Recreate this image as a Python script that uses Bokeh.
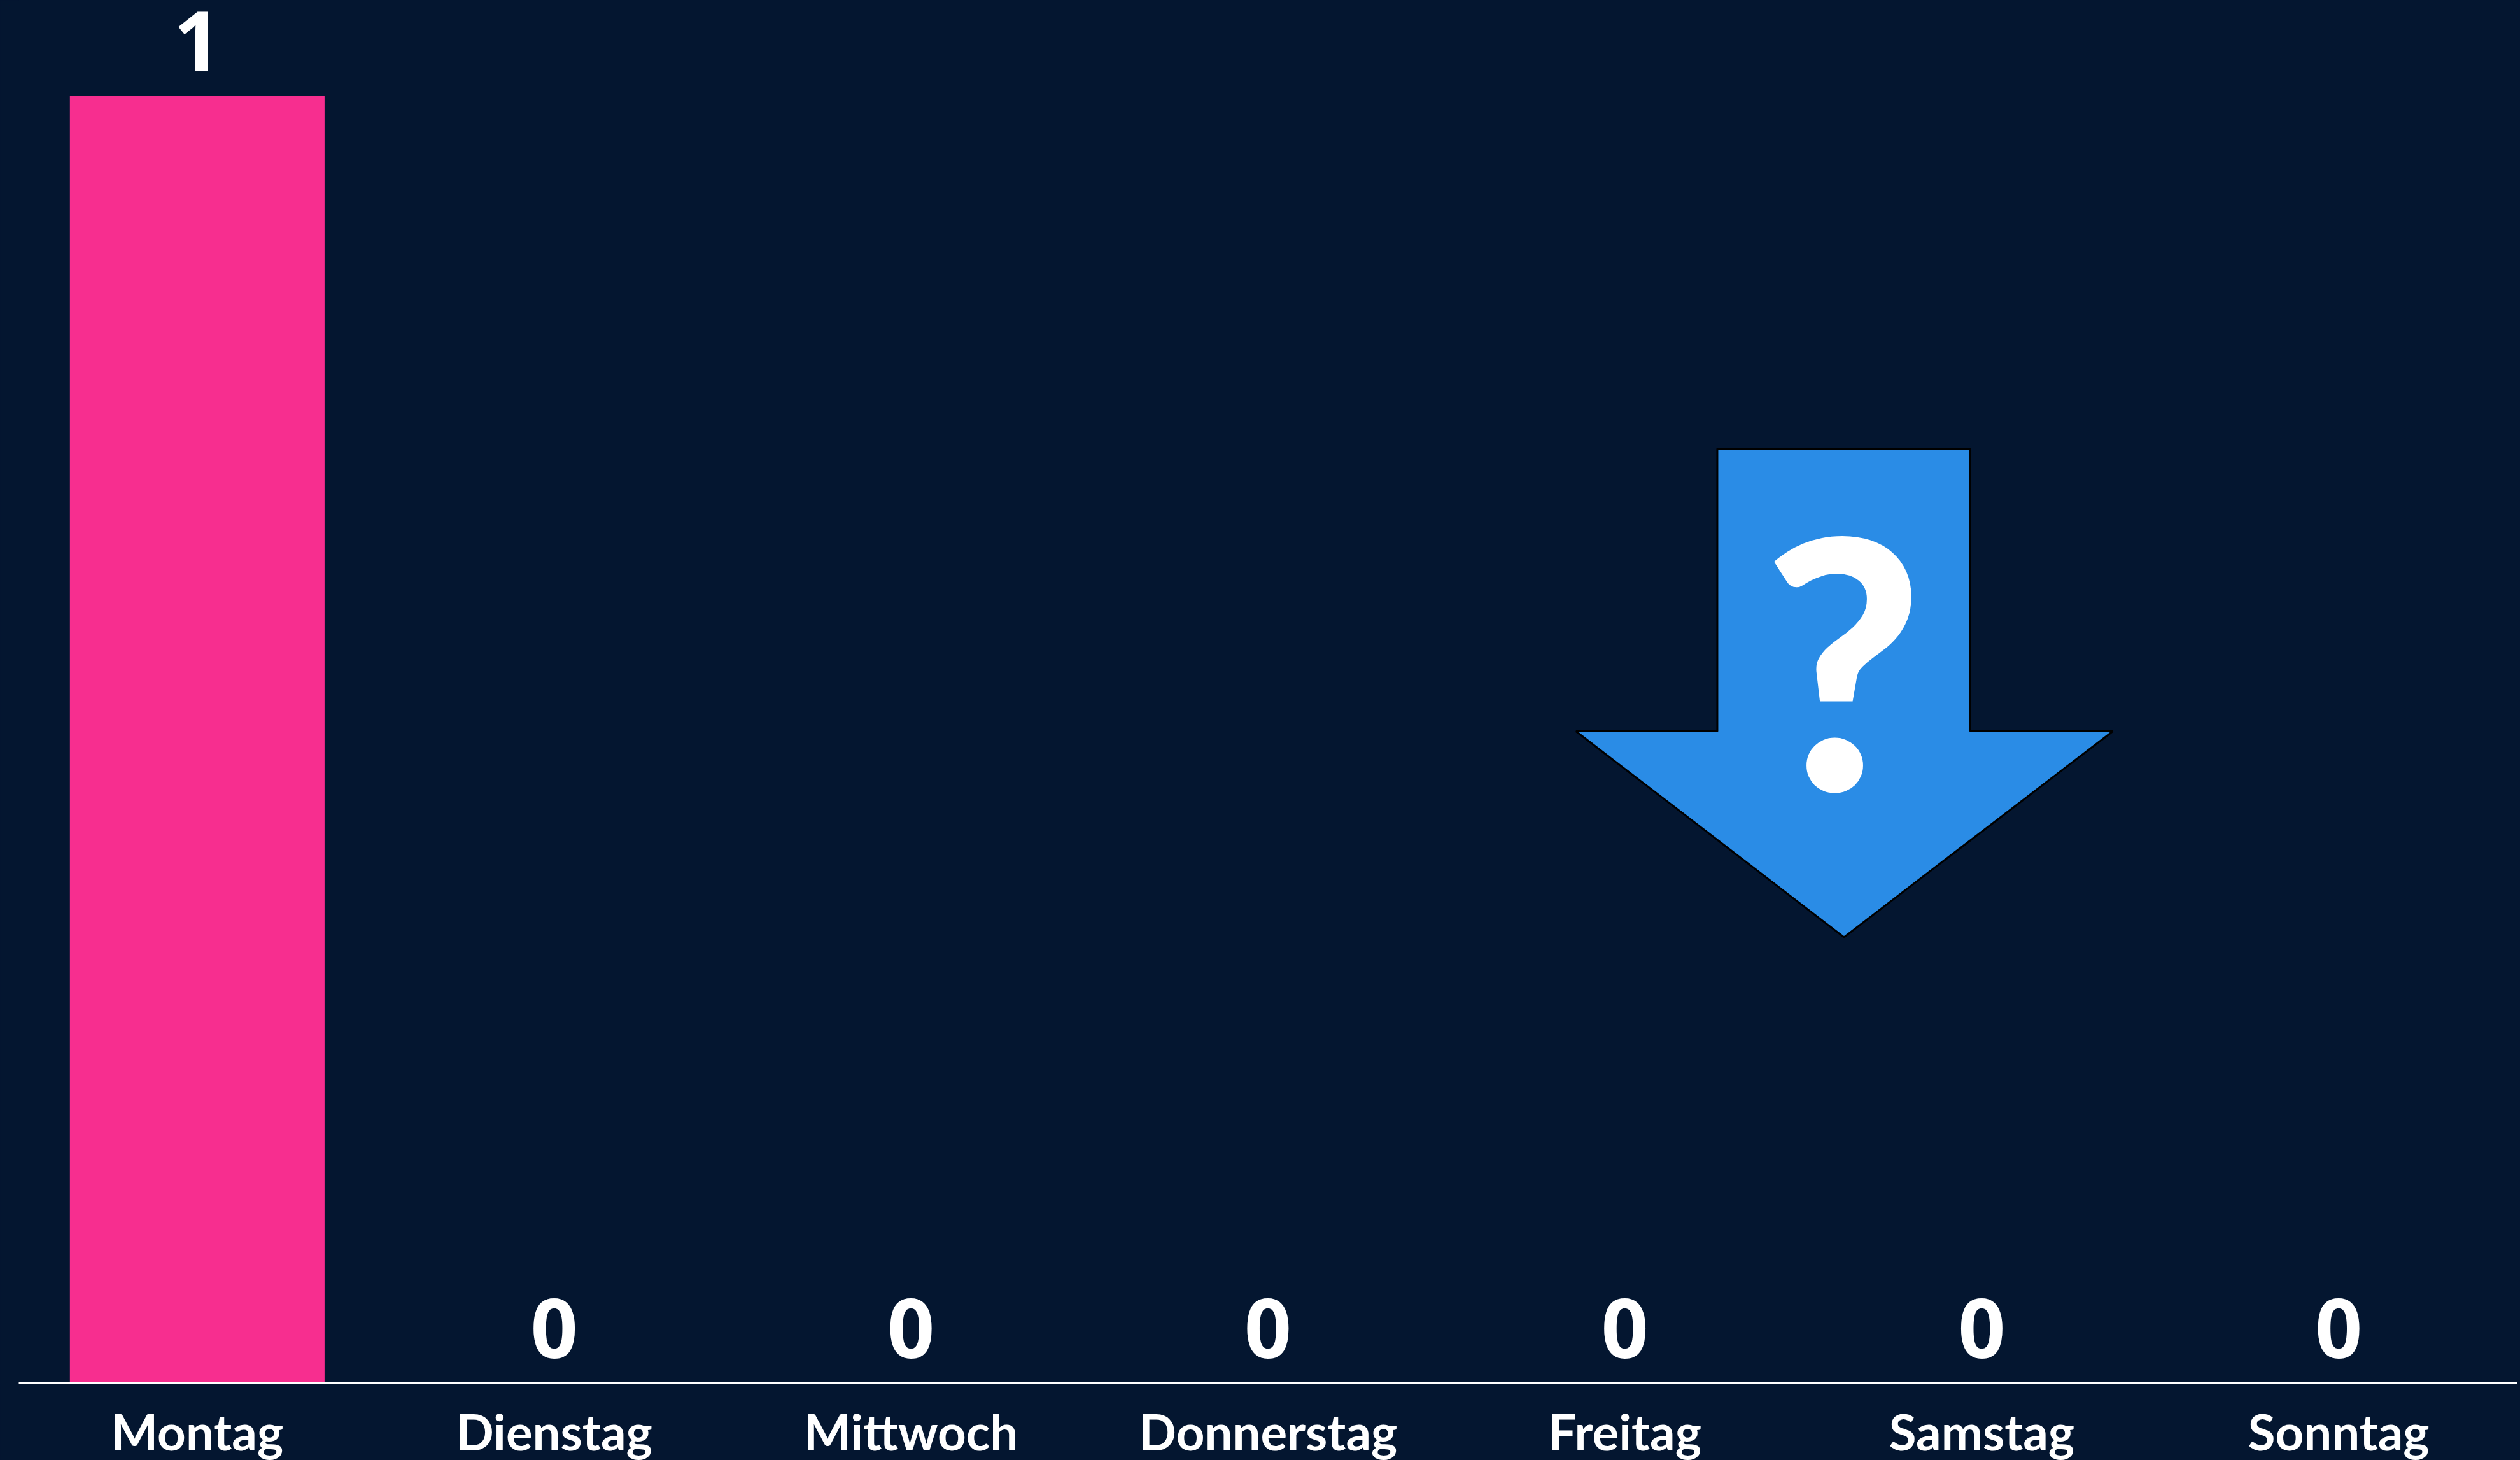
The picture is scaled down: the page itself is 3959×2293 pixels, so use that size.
from bokeh.plotting import figure
from bokeh.models import FactorRange, Range1d, ColumnDataSource
from bokeh.core.properties import value
from bokeh.embed import file_html
from bokeh.resources import INLINE

days = ["Montag", "Dienstag", "Mittwoch", "Donnerstag", "Freitag", "Samstag", "Sonntag"]
counts = [1, 0, 0, 0, 0, 0, 0]
arrow_x = [4.759, 5.468, 5.468, 5.867, 5.114, 4.363, 4.759]
arrow_y = [0.726, 0.726, 0.5064, 0.5064, 0.3465, 0.5064, 0.5064]
mark_x = [5.112]
mark_y = [0.4564]

BG = "#041630"
PINK = "#F72E8F"
BLUE = "#2A8CE6"
FONT = "Lato"
NUM_FONT = "Open Sans"
MARK_FONT = "Lato Black"

src = ColumnDataSource(dict(day=days, n=counts, label=[str(c) for c in counts]))

p = figure(x_range=FactorRange(*days, range_padding=0, factor_padding=0),
           y_range=Range1d(0, 2172 / 2022),
           frame_width=3925, frame_height=2172,
           min_border_left=29, min_border_right=5, min_border_top=0, min_border_bottom=121,
           output_backend="svg", toolbar_location=None,
           background_fill_color=BG, border_fill_color=BG, outline_line_color=None)
p.x_range.range_padding = 0
p.xgrid.visible = False
p.ygrid.visible = False
p.yaxis.visible = False

ax = p.xaxis[0]
ax.axis_line_color = "#FFFFFF"
ax.axis_line_width = 3
ax.major_tick_line_color = None
ax.minor_tick_line_color = None
ax.major_label_text_color = "#FFFFFF"
ax.major_label_text_font = FONT
ax.major_label_text_font_style = "bold"
ax.major_label_text_font_size = "78px"
ax.major_label_standoff = 22
ax.major_label_orientation = "horizontal"

p.vbar(x="day", top="n", bottom=0, width=0.7135, source=src, fill_color=PINK, line_color=None)
p.text(x="day", y="n", text="label", source=src, text_color="#FFFFFF", text_font=value(NUM_FONT),
       text_font_style="bold", text_font_size="130px", text_align="center",
       text_baseline="alphabetic", y_offset=-86)

p.patch(arrow_x, arrow_y, fill_color=BLUE, line_color="#000000", line_width=3)
p.text(x=mark_x, y=mark_y, text=["?"], text_color="#FFFFFF", text_font=value(MARK_FONT),
       text_font_style="normal", text_font_size="545px", text_align="center",
       text_baseline="alphabetic", y_offset=-219)

html = file_html(p, INLINE)
html = html.replace("</head>", f"<style>html,body{{margin:0;padding:0;background:{BG};overflow:hidden}}</style></head>", 1)
open("out.html", "w").write(html)
